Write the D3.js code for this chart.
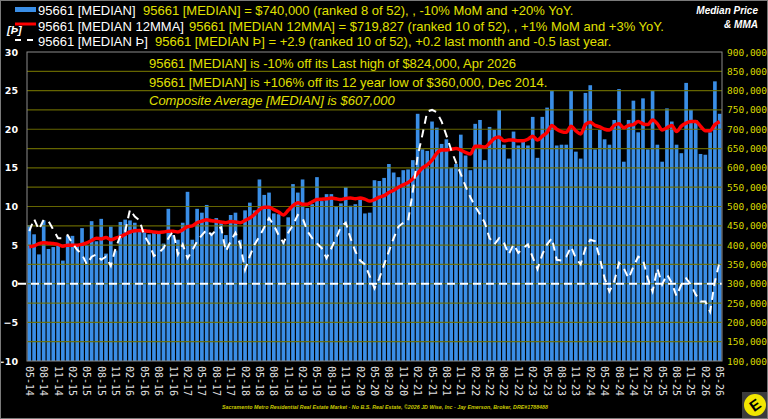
<!DOCTYPE html>
<html>
<head>
<meta charset="utf-8">
<script src="https://cdn.jsdelivr.net/npm/d3@7/dist/d3.min.js"></script>
<style>
body { margin: 0; background: #000; }
svg { display: block; }
</style>
</head>
<body>
<svg id="chart" width="768" height="419"></svg>
<script>
// monthly values, May 2014 .. May 2026 (one row per year starting in May)

// median sale price, $ thousands
var medianK = [
    452, 428, 376, 464, 390, 395, 398, 360, 424, 424, 400, 444,
    400, 462, 410, 468, 378, 448, 386, 460, 466, 464, 458, 436,
    440, 428, 432, 430, 404, 494, 426, 414, 458, 538, 414, 494,
    484, 504, 432, 470, 460, 426, 478, 484, 414, 490, 510, 490,
    570, 530, 536, 482, 480, 408, 472, 558, 536, 570, 496, 506,
    576, 514, 532, 532, 500, 508, 550, 502, 506, 518, 482, 484,
    568, 566, 574, 610, 588, 576, 594, 596, 620, 740, 648, 644,
    720, 704, 662, 674, 600, 610, 686, 632, 594, 714, 724, 620,
    706, 698, 750, 660, 624, 694, 658, 668, 658, 732, 626, 732,
    756, 800, 658, 660, 660, 800, 642, 624, 794, 814, 648, 698,
    674, 660, 724, 804, 616, 724, 774, 692, 780, 648, 800, 660,
    616, 754, 720, 660, 638, 820, 750, 724, 636, 634, 692, 824,
    740
];

// 12 month moving average, $ thousands
var mmaK = [
    396, 398, 404, 406, 405, 404, 402, 397, 400, 400, 400, 402,
    406, 412, 418, 416, 420, 414, 418, 422, 428, 434, 437, 438,
    437, 436, 434, 433, 434, 436, 436, 434, 440, 448, 450, 458,
    462, 466, 463, 462, 460, 458, 461, 460, 458, 464, 470, 480,
    492, 498, 498, 492, 486, 478, 490, 502, 510, 506, 506, 512,
    518, 519, 520, 522, 520, 518, 521, 522, 520, 522, 519, 514,
    518, 524, 528, 536, 542, 550, 556, 562, 572, 586, 600, 608,
    620, 638, 646, 646, 648, 650, 646, 640, 636, 656, 656, 654,
    664, 676, 680, 670, 672, 672, 670, 670, 674, 682, 672, 682,
    692, 710, 700, 694, 692, 708, 696, 688, 712, 718, 710, 706,
    700, 698, 710, 714, 704, 710, 712, 720, 714, 712, 724, 714,
    698, 704, 710, 694, 708, 716, 720, 720, 708, 696, 696, 712,
    719.827
];

// [MEDIAN Þ], left axis
var thorn = [
    6.8, 8.4, 7.0, 8.3, 8.1, 7.0, 5.9, 5.9, 6.3, 5.2, 4.4, 3.8,
    2.5, 3.5, 3.8, 3.1, 3.5, 2.3, 4.6, 6.2, 6.8, 9.6, 8.7, 8.2,
    6.2, 5.2, 3.6, 4.0, 4.6, 5.9, 6.8, 3.8, 5.1, 3.3, 4.3, 5.5,
    6.3, 7.0, 6.3, 7.0, 7.3, 4.2, 5.5, 6.6, 5.1, 1.8, 3.6, 5.1,
    6.1, 7.3, 8.5, 7.6, 6.3, 5.3, 6.6, 7.6, 8.9, 8.5, 6.8, 5.9,
    5.2, 4.6, 3.3, 4.6, 5.9, 7.4, 7.9, 5.9, 4.2, 3.0, 2.5, 1.0,
    -0.6, 0.7, 2.5, 4.2, 5.9, 7.4, 7.9, 8.1, 12.0, 16.5, 19.3, 22.3,
    22.5, 22.2, 21.0, 19.2, 17.3, 15.7, 14.2, 12.6, 11.2, 10.0, 9.0, 7.9,
    5.9, 5.1, 5.9, 5.3, 3.8, 5.1, 4.0, 4.6, 5.1, 3.4, 1.9, 3.8,
    5.1, 5.9, 3.1, 3.0, 3.5, 4.8, 3.3, 2.5, 4.6, 5.7, 5.5, 3.3,
    0.7, -1.0, 0.3, 2.7, 2.0, 0.7, 2.2, 3.5, 3.1, 0.7, -1.0, 2.0,
    -0.1, 1.2, 0.1, -1.6, -0.1, 0.7, -0.1, -1.4, -2.3, -2.3, -3.6, 0.3,
    2.9
];

// x labels, every third month
var tickLabels = [
    "05-14", "08-14", "11-14", "02-15", "05-15", "08-15", "11-15", "02-16",
    "05-16", "08-16", "11-16", "02-17", "05-17", "08-17", "11-17", "02-18",
    "05-18", "08-18", "11-18", "02-19", "05-19", "08-19", "11-19", "02-20",
    "05-20", "08-20", "11-20", "02-21", "05-21", "08-21", "11-21", "02-22",
    "05-22", "08-22", "11-22", "02-23", "05-23", "08-23", "11-23", "02-24",
    "05-24", "08-24", "11-24", "02-25", "05-25", "08-25", "11-25", "02-26",
    "05-26"
];

var leftTicks = [-10, -5, 0, 5, 10, 15, 20, 25, 30];

var legendNames = ["95661 [MEDIAN]", "95661 [MEDIAN 12MMA]", "95661 [MEDIAN Þ]"];
var headline = [
    "95661 [MEDIAN] = $740,000 (ranked 8 of 52), , -10% MoM and +20% YoY.",
    "95661 [MEDIAN 12MMA] = $719,827 (ranked 10 of 52), , +1% MoM and +3% YoY.",
    "95661 [MEDIAN Þ] = +2.9 (ranked 10 of 52), +0.2 last month and -0.5 last year."
];
var notes = [
    "95661 [MEDIAN] is -10% off its Last high of $824,000, Apr 2026",
    "95661 [MEDIAN] is +106% off its 12 year low of $360,000, Dec 2014.",
    "Composite Average [MEDIAN] is $607,000"
];
var footer = "Sacramento Metro Residential Real Estate Market - No B.S. Real Estate, ©2026 JD Wise, Inc - Jay Emerson, Broker, DRE#1788488";

var sans = "'Liberation Sans', Arial, sans-serif";
var mono = "'DejaVu Sans Mono', monospace";
var yellow = "#e0e000";

var svg = d3.select("#chart");
// plot box (note: "top" is a reserved window property, so p* names)
var pL = 27, pR = 722, pT = 52, pB = 361;

svg.append("rect").attr("width", 768).attr("height", 419).attr("fill", "#000");

var idx = d3.range(medianK.length);
var x = d3.scaleBand().domain(idx).range([pL, pR]).paddingInner(0.24).paddingOuter(0.1);
var yL = d3.scaleLinear().domain([-10, 30]).range([pB, pT]);
var yR = d3.scaleLinear().domain([100000, 900000]).range([pB, pT]);
var cx = function(i){ return x(i) + x.bandwidth() / 2; };

// bars
svg.append("g").selectAll("rect")
    .data(medianK)
    .enter()
    .append("rect")
    .attr("x", function(d, i){ return x(i); })
    .attr("y", function(d){ return yR(d * 1000); })
    .attr("width", x.bandwidth())
    .attr("height", function(d){ return pB - yR(d * 1000); })
    .attr("fill", "#3a8ee6");

// olive grid on top of bars
svg.append("g").selectAll("line")
    .data(d3.range(150000, 900000, 50000))
    .enter()
    .append("line")
    .attr("x1", pL).attr("x2", pR)
    .attr("y1", function(d){ return yR(d); })
    .attr("y2", function(d){ return yR(d); })
    .attr("stroke", "#717100")
    .attr("stroke-width", 1.2)
    .attr("opacity", 0.9);

// zero line
svg.append("line")
    .attr("x1", 18).attr("x2", pR)
    .attr("y1", yL(0)).attr("y2", yL(0))
    .attr("stroke", "#fff").attr("stroke-width", 2)
    .attr("stroke-dasharray", "8,5");

// plot frame
svg.append("rect")
    .attr("x", pL).attr("y", pT)
    .attr("width", pR - pL).attr("height", pB - pT)
    .attr("fill", "none").attr("stroke", "#8c8c8c");

// 12MMA
var mmaLine = d3.line()
    .x(function(d, i){ return cx(i); })
    .y(function(d){ return yR(d * 1000); })
    .curve(d3.curveMonotoneX);
svg.append("path").datum(mmaK)
    .attr("d", mmaLine)
    .attr("fill", "none").attr("stroke", "#ff0000")
    .attr("stroke-width", 3.5).attr("stroke-linejoin", "round");

// Þ dashed
var thornLine = d3.line()
    .x(function(d, i){ return cx(i); })
    .y(function(d){ return yL(d); });
svg.append("path").datum(thorn)
    .attr("d", thornLine)
    .attr("fill", "none").attr("stroke", "#fff")
    .attr("stroke-width", 2).attr("stroke-dasharray", "8,6");

// left axis
var axL = svg.append("g").attr("transform", "translate(18,0)")
    .call(d3.axisLeft(yL).tickValues(leftTicks).tickSize(0).tickPadding(0));
axL.select(".domain").remove();
axL.selectAll("text")
    .attr("fill", "#fff").attr("font-family", "'DejaVu Sans', sans-serif")
    .attr("font-weight", "bold").attr("font-size", 9.5);

// right axis
var axR = svg.append("g").attr("transform", "translate(727,0)")
    .call(d3.axisRight(yR).tickValues(d3.range(100000, 900001, 50000))
        .tickFormat(d3.format(",")).tickSize(0).tickPadding(0));
axR.select(".domain").remove();
axR.selectAll("text")
    .attr("fill", "#d8d800").attr("font-family", mono).attr("font-size", 9.5);

// bottom axis, rotated labels
var axB = svg.append("g").attr("transform", "translate(0," + (pB + 5) + ")")
    .call(d3.axisBottom(x)
        .tickValues(idx.filter(function(i){ return i % 3 === 0; }))
        .tickFormat(function(i){ return tickLabels[i / 3]; })
        .tickSize(0));
axB.select(".domain").remove();
axB.selectAll("text")
    .attr("transform", "rotate(90)")
    .attr("x", 0).attr("y", 0).attr("dy", "0.35em")
    .attr("text-anchor", "start")
    .attr("fill", "#e0e0e0").attr("font-family", mono).attr("font-size", 10);

// legend
var lg = svg.append("g");
lg.append("rect").attr("x", 15).attr("y", 7).attr("width", 21).attr("height", 5).attr("fill", "#3a8ee6");
lg.append("line").attr("x1", 15).attr("x2", 36).attr("y1", 24).attr("y2", 24)
    .attr("stroke", "#ff0000").attr("stroke-width", 3);
lg.append("line").attr("x1", 15).attr("x2", 36).attr("y1", 40).attr("y2", 40)
    .attr("stroke", "#fff").attr("stroke-width", 2).attr("stroke-dasharray", "6,6");
lg.selectAll("text.name")
    .data(legendNames)
    .enter()
    .append("text")
    .attr("class", "name")
    .attr("x", 38)
    .attr("y", function(d, i){ return 15 + i * 15.5; })
    .attr("fill", "#fff").attr("font-family", sans).attr("font-size", 13)
    .text(function(d){ return d; });

var headX = [143, 189, 155];
lg.selectAll("text.head")
    .data(headline)
    .enter()
    .append("text")
    .attr("class", "head")
    .attr("x", function(d, i){ return headX[i]; })
    .attr("y", function(d, i){ return 15 + i * 15.5; })
    .attr("fill", yellow).attr("font-family", sans).attr("font-size", 13)
    .text(function(d){ return d; });

svg.append("text").attr("x", 7).attr("y", 34)
    .attr("fill", "#fff").attr("font-family", sans).attr("font-size", 11)
    .attr("font-weight", "bold").attr("font-style", "italic")
    .text("[Þ]");

svg.append("text").attr("x", 758).attr("y", 14)
    .attr("text-anchor", "end").attr("fill", "#fff").attr("font-family", sans)
    .attr("font-size", 10).attr("font-weight", "bold").attr("font-style", "italic")
    .text("Median Price");
svg.append("text").attr("x", 758).attr("y", 28)
    .attr("text-anchor", "end").attr("fill", "#fff").attr("font-family", sans)
    .attr("font-size", 10).attr("font-weight", "bold").attr("font-style", "italic")
    .text("& MMA");

// notes inside the plot
svg.append("g").selectAll("text")
    .data(notes)
    .enter()
    .append("text")
    .attr("x", 149)
    .attr("y", function(d, i){ return 68 + i * 18.5; })
    .attr("fill", yellow).attr("font-family", sans).attr("font-size", 13)
    .attr("font-style", function(d, i){ return i === 2 ? "italic" : "normal"; })
    .text(function(d){ return d; });

// footer
svg.append("text").attr("x", 222).attr("y", 409)
    .attr("fill", "#c8c800").attr("font-family", sans).attr("font-size", 5.6)
    .attr("font-weight", "bold").attr("font-style", "italic")
    .attr("textLength", 326).attr("lengthAdjust", "spacingAndGlyphs")
    .text(footer);

// logo
svg.append("rect").attr("x", 742).attr("y", 392).attr("width", 26).attr("height", 27).attr("fill", "#3c3c3c");
svg.append("circle").attr("cx", 755).attr("cy", 405).attr("r", 11).attr("fill", "#f2e600");
svg.append("text").attr("x", 755).attr("y", 405)
    .attr("text-anchor", "middle").attr("dy", "0.36em")
    .attr("transform", "rotate(-35,755,405)")
    .attr("fill", "#000").attr("font-family", sans).attr("font-weight", "bold").attr("font-size", 15)
    .text("E");

// outer border
svg.append("rect").attr("x", 0.5).attr("y", 0.5).attr("width", 767).attr("height", 418)
    .attr("fill", "none").attr("stroke", "#7a7a7a");
</script>
</body>
</html>
